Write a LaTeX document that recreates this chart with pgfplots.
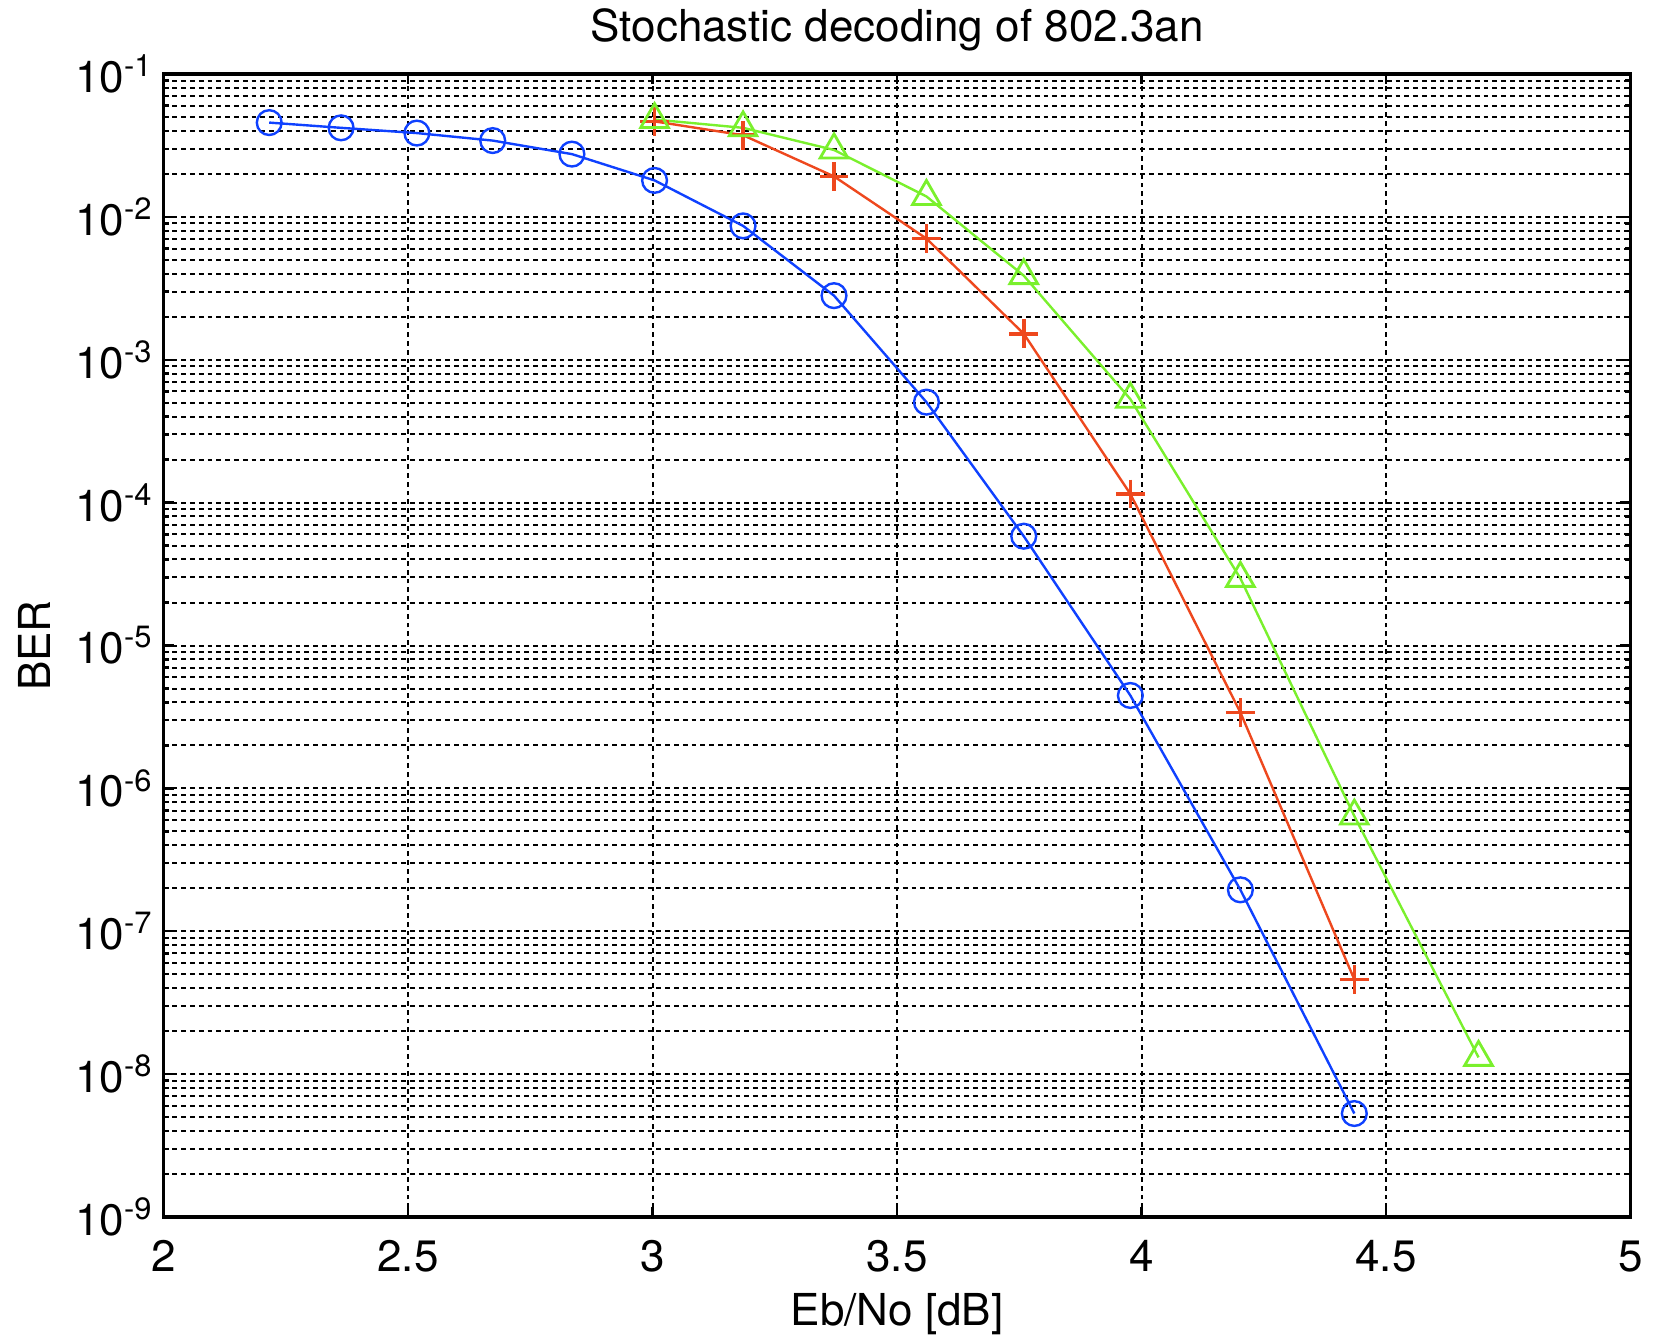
\documentclass[border=0pt]{standalone}
\usepackage{pgfplots}
\pgfplotsset{compat=1.18}
\usepackage{fontspec}
\setmainfont{TeX Gyre Heros}

\definecolor{berblue}{RGB}{15,65,255}
\definecolor{berred}{RGB}{238,72,30}
\definecolor{bergreen}{RGB}{122,240,45}

\begin{document}
\begin{tikzpicture}
\begin{axis}[
    scale only axis,
    width=366.75pt,
    height=285.75pt,
    xmin=2, xmax=5,
    ymode=log,
    ymin=1e-9, ymax=1e-1,
    xtick={2,2.5,3,3.5,4,4.5,5},
    xticklabels={2,2.5,3,3.5,4,4.5,5},
    ytick={1e-9,1e-8,1e-7,1e-6,1e-5,1e-4,1e-3,1e-2,1e-1},
    yticklabels={10\textsuperscript{-9},10\textsuperscript{-8},10\textsuperscript{-7},10\textsuperscript{-6},10\textsuperscript{-5},10\textsuperscript{-4},10\textsuperscript{-3},10\textsuperscript{-2},10\textsuperscript{-1}},
    minor ytick={2e-9,3e-9,4e-9,5e-9,6e-9,7e-9,8e-9,9e-9,
                 2e-8,3e-8,4e-8,5e-8,6e-8,7e-8,8e-8,9e-8,
                 2e-7,3e-7,4e-7,5e-7,6e-7,7e-7,8e-7,9e-7,
                 2e-6,3e-6,4e-6,5e-6,6e-6,7e-6,8e-6,9e-6,
                 2e-5,3e-5,4e-5,5e-5,6e-5,7e-5,8e-5,9e-5,
                 2e-4,3e-4,4e-4,5e-4,6e-4,7e-4,8e-4,9e-4,
                 2e-3,3e-3,4e-3,5e-3,6e-3,7e-3,8e-3,9e-3,
                 2e-2,3e-2,4e-2,5e-2,6e-2,7e-2,8e-2,9e-2},
    tick align=inside,
    tick pos=both,
    major tick length=2.6pt,
    minor tick length=1.4pt,
    every tick/.style={black, line width=0.6pt},
    grid=both,
    xminorgrids=false,
    major grid style={black, line width=0.5pt, dash pattern=on 1.2pt off 1pt},
    minor grid style={black, line width=0.5pt, dash pattern=on 1.2pt off 1pt},
    axis line style={black, line width=0.9pt},
    tick label style={font=\fontsize{11}{13}\selectfont},
    xticklabel style={anchor=base, yshift=-13.5pt},
    yticklabel style={xshift=1pt},
    title={Stochastic decoding of 802.3an},
    every axis title/.style={at={(axis description cs:0.5,1.028)}, anchor=base, font=\fontsize{11}{13}\selectfont},
    xlabel={Eb/No [dB]},
    xlabel style={at={(axis description cs:0.5,-0.0945)}, anchor=base, font=\fontsize{11}{13}\selectfont},
    ylabel={BER},
    ylabel style={at={(axis description cs:-0.088,0.5)}, anchor=center, rotate=0, font=\fontsize{11}{13}\selectfont},
]
% circles
\addplot[color=berblue, line width=0.6pt, mark=o, mark size=3.1pt, mark options={line width=0.6pt}] coordinates {
    (2.216,0.0457) (2.363,0.0420) (2.518,0.0386) (2.673,0.0342)
    (2.835,0.0275) (3.004,0.0180) (3.185,0.00865) (3.371,0.00281)
    (3.560,5.05e-4) (3.759,5.82e-5) (3.977,4.47e-6) (4.202,1.95e-7)
    (4.435,5.3e-9)
};
% plus
\addplot[color=berred, line width=0.6pt, mark=+, mark size=3.6pt, mark options={line width=0.9pt}] coordinates {
    (3.004,0.0466) (3.185,0.0373) (3.371,0.0192) (3.560,0.00705)
    (3.759,0.00152) (3.977,1.15e-4) (4.202,3.4e-6) (4.435,4.6e-8)
};
% triangles
\addplot[color=bergreen, line width=0.6pt, mark=triangle, mark size=4pt, mark options={line width=0.7pt}] coordinates {
    (3.004,0.0480) (3.185,0.0420) (3.371,0.0294) (3.560,0.0139)
    (3.759,0.00388) (3.977,5.3e-4) (4.202,2.95e-5) (4.435,6.4e-7)
    (4.689,1.31e-8)
};
\end{axis}
\pgfresetboundingbox
\path[use as bounding box] (-40.9pt,-29.5pt) rectangle (372.85pt,304.25pt);
\end{tikzpicture}
\end{document}
